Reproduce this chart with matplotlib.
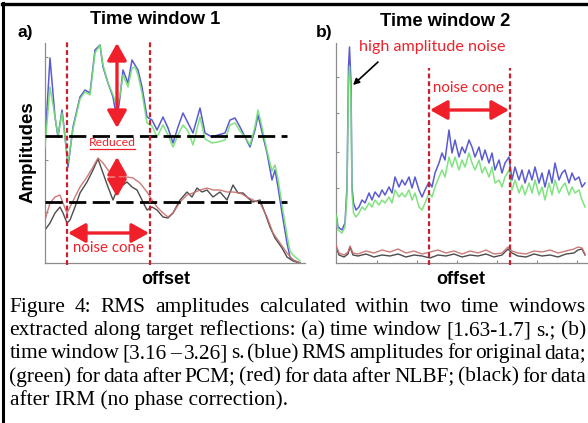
import matplotlib
matplotlib.use("Agg")
import matplotlib.pyplot as plt
from matplotlib.patches import FancyArrowPatch, ArrowStyle
from matplotlib.lines import Line2D

W, H = 588, 423

# ---- panel a: time window 1 (offset in px-like units, amplitude arbitrary) ----
offset_a_top = [0, 5, 10, 13, 17, 19, 23, 28, 35, 40, 45, 50, 55, 58, 63, 68, 72, 75, 78, 83,
                87, 90, 93, 97, 102, 107, 112, 118, 123, 128, 133, 138, 143, 148, 155, 160, 167, 173, 180, 185,
                190, 195, 200, 205, 210, 213, 217, 222, 227, 230, 233, 237, 242, 245, 248, 255]
blue_a = [120, 205, 146, 126, 153, 136, 96, 136, 166, 173, 170, 213, 218, 196, 180, 166, 143, 166, 193, 180,
          203, 198, 193, 176, 146, 143, 133, 146, 135, 120, 136, 150, 140, 130, 155, 130, 126, 128, 130, 143,
          145, 136, 126, 116, 133, 148, 131, 110, 83, 93, 76, 50, 20, 6, 3, 0]
green_a = [116, 176, 146, 128, 150, 134, 100, 134, 164, 171, 168, 210, 218, 198, 180, 168, 158, 168, 188, 176,
           195, 196, 188, 170, 140, 137, 126, 138, 128, 116, 128, 138, 132, 118, 146, 124, 120, 121, 123, 138,
           140, 132, 126, 118, 136, 153, 136, 112, 92, 98, 84, 58, 28, 12, 8, 2]

offset_a_red = [0, 5, 10, 15, 18, 22, 25, 30, 35, 42, 48, 53, 58, 63, 68, 75, 82, 88, 95, 102,
                107, 112, 118, 123, 128, 135, 142, 148, 155, 162, 168, 175, 182, 188, 195, 202, 208, 215, 222, 228,
                235, 242, 248, 255]
red_a = [43, 60, 66, 68, 60, 50, 56, 66, 76, 86, 96, 105, 100, 93, 88, 85, 86, 85, 80, 71,
         63, 56, 50, 46, 50, 61, 68, 70, 73, 75, 73, 73, 71, 71, 70, 66, 63, 60, 46, 30,
         20, 10, 3, 0]

offset_a_black = [0, 5, 10, 15, 18, 22, 25, 30, 35, 42, 48, 53, 58, 63, 68, 72, 75, 78, 82, 87,
                  92, 97, 102, 107, 112, 118, 123, 128, 135, 142, 147, 152, 157, 162, 168, 175, 182, 188, 193, 198,
                  203, 208, 215, 220, 225, 230, 237, 242, 248, 255]
black_a = [33, 40, 50, 56, 50, 40, 43, 56, 70, 81, 93, 104, 90, 76, 63, 73, 80, 78, 81, 76,
           73, 63, 53, 56, 53, 46, 45, 50, 63, 71, 66, 75, 71, 73, 66, 71, 63, 78, 70, 70,
           65, 61, 63, 50, 36, 25, 15, 6, 2, 0]

# ---- panel b: time window 2 ----
offset_b_top = [0, 2, 6, 9, 11, 12.5, 13.5, 15, 16, 17.5, 20, 23, 26, 29, 33, 36, 39, 43, 46, 49,
                53, 56, 59, 63, 66, 69, 73, 76, 79, 83, 86, 89, 93, 96, 99, 103, 106, 109, 113, 116,
                119, 123, 126, 129, 133, 136, 139, 143, 146, 149, 153, 156, 159, 163, 166, 169, 173, 176, 179, 183,
                186, 189, 193, 196, 199, 203, 206, 209, 213, 216, 219, 223, 226, 229, 233, 236, 239, 243, 246, 249]
blue_b = [50, 36, 33, 40, 76, 196, 216, 180, 76, 60, 53, 56, 63, 60, 70, 63, 71, 66, 73, 68,
          76, 70, 86, 76, 83, 78, 86, 75, 86, 73, 66, 73, 81, 76, 90, 100, 110, 103, 133, 110,
          123, 106, 116, 110, 123, 116, 106, 116, 103, 113, 100, 110, 93, 103, 90, 100, 106, 83, 96, 83,
          93, 80, 93, 83, 96, 80, 90, 76, 93, 80, 100, 83, 90, 93, 80, 90, 83, 86, 76, 80]
green_b = [48, 33, 30, 36, 70, 180, 197, 165, 70, 50, 46, 50, 56, 53, 60, 56, 63, 58, 63, 60,
           66, 60, 73, 66, 70, 66, 73, 63, 70, 56, 53, 60, 70, 66, 76, 86, 93, 86, 106, 96,
           106, 93, 103, 96, 110, 100, 93, 103, 90, 96, 86, 96, 80, 83, 76, 86, 93, 73, 83, 70,
           78, 68, 80, 70, 83, 68, 76, 63, 80, 68, 83, 70, 76, 80, 68, 76, 70, 73, 63, 56]

offset_b_low = [0, 3, 8, 12, 14, 17, 22, 30, 38, 46, 54, 62, 70, 78, 86, 94, 102, 110, 118, 126,
                134, 142, 150, 158, 166, 172, 176, 182, 190, 198, 206, 214, 222, 230, 238, 242, 246, 249]
black_b = [16, 8, 6, 9, 16, 8, 7, 9, 6, 8, 7, 9, 6, 8, 7, 5, 8, 7, 9, 6,
           8, 7, 9, 6, 8, 14, 10, 7, 6, 9, 7, 8, 6, 9, 10, 13, 14, 8]
red_b = [18, 10, 8, 11, 17, 10, 9, 12, 10, 13, 11, 14, 10, 12, 9, 11, 13, 10, 12, 9,
         12, 10, 13, 9, 10, 16, 12, 10, 9, 12, 11, 13, 10, 12, 14, 16, 15, 9]

caption = [
    "Figure 4: RMS amplitudes calculated within two time windows",
    "extracted along target reflections: (a) time window [1.63-1.7] s.; (b)",
    "time window [3.16 \u2013 3.26] s. (blue) RMS amplitudes for original data;",
    "(green) for data after PCM; (red) for data after NLBF; (black) for data",
    "after IRM (no phase correction).",
]

C_BLUE = "#5a5ad2"
C_GREEN = "#72e072"
C_RED = "#c86c6c"
C_BLACK = "#4c4c4c"
C_ANN = "#f0202a"
C_VLINE = "#cc1f2e"
ANN_FONT = ["Lato", "DejaVu Sans"]


def box(left, top, right, bottom):
    return [left / W, 1 - bottom / H, (right - left) / W, (bottom - top) / H]


def style_axes(ax, xmax, xt, yt):
    ax.set_xlim(0, xmax)
    ax.set_ylim(0, 220)
    for s in ["top", "right"]:
        ax.spines[s].set_visible(False)
    for s in ["left", "bottom"]:
        ax.spines[s].set_color("#8c8c8c")
        ax.spines[s].set_linewidth(0.9)
    ax.set_xticks(xt)
    ax.set_yticks(yt)
    ax.tick_params(direction="in", length=2.5, width=0.8, color="#8c8c8c",
                   labelleft=False, labelbottom=False)
    ax.patch.set_alpha(0)


def double_arrow(ax, p0, p1, lw=2.4, scale=14):
    st = ArrowStyle("<|-|>", head_length=0.75, head_width=0.42)
    ax.add_patch(FancyArrowPatch(p0, p1, arrowstyle=st, mutation_scale=scale,
                                 color=C_ANN, lw=lw, clip_on=False, shrinkA=0, shrinkB=0, zorder=6))


def red_vline(ax, x, y0, y1):
    ax.add_line(Line2D([x, x], [y0, y1], color=C_VLINE, lw=1.6, ls=(0, (2.2, 1.3)),
                       clip_on=False, zorder=5))


fig = plt.figure(figsize=(W / 100, H / 100), dpi=100)

# outer frame (top and left lines)
fig.add_artist(Line2D([3 / W, 3 / W], [0, 1 - 3 / H], color="black", lw=2.2))
fig.add_artist(Line2D([2 / W, 1], [1 - 4 / H, 1 - 4 / H], color="black", lw=2.4))

# ---------------- panel a ----------------
ax1 = fig.add_axes(box(45, 43, 305, 263))
style_axes(ax1, 260, [], [0, 51, 103, 154, 206])
ax1.plot(offset_a_top, blue_a, color=C_BLUE, lw=1.1, zorder=2)
ax1.plot(offset_a_top, green_a, color=C_GREEN, lw=1.1, zorder=3, alpha=0.9)
ax1.plot(offset_a_black, black_a, color=C_BLACK, lw=1.0, zorder=2)
ax1.plot(offset_a_red, red_a, color=C_RED, lw=1.0, zorder=3, alpha=0.9)

for yv in [127, 61]:
    ax1.add_line(Line2D([0, 242], [yv, yv], color="black", lw=2.0, ls=(0, (6.2, 2.3)), zorder=4))
for xv in [22, 105]:
    red_vline(ax1, xv, -2, 221)

double_arrow(ax1, (72, 135), (72, 220))
double_arrow(ax1, (72, 66), (72, 106))
double_arrow(ax1, (23, 30), (104, 30))
ax1.text(63, 15, "noise cone", color=C_ANN, fontsize=10.8, family=ANN_FONT,
         ha="center", va="center", zorder=7)
ax1.text(67, 121, "Reduced", color=C_ANN, fontsize=8.8, family=ANN_FONT,
         ha="center", va="center", zorder=7)
ax1.add_line(Line2D([45, 90], [114.5, 114.5], color=C_ANN, lw=0.9, zorder=7))

# ---------------- panel b ----------------
ax2 = fig.add_axes(box(336, 43, 587, 263))
style_axes(ax2, 251, [41, 81, 121, 161, 201, 241], [36, 75, 111, 150, 186])
ax2.plot(offset_b_top, blue_b, color=C_BLUE, lw=1.1, zorder=2)
ax2.plot(offset_b_top, green_b, color=C_GREEN, lw=1.1, zorder=3, alpha=0.9)
ax2.plot(offset_b_low, black_b, color=C_BLACK, lw=1.0, zorder=2)
ax2.plot(offset_b_low, red_b, color=C_RED, lw=1.0, zorder=3, alpha=0.9)

for xv in [92.5, 173.5]:
    red_vline(ax2, xv, -2, 195)
double_arrow(ax2, (94, 153), (173, 153))
ax2.text(132, 175, "noise cone", color=C_ANN, fontsize=10.8, family=ANN_FONT,
         ha="center", va="center", zorder=7)
ax2.text(96, 216, "high amplitude noise", color=C_ANN, fontsize=11.6, family=ANN_FONT,
         ha="center", va="center", zorder=7)
ax2.annotate("", xy=(17, 178), xytext=(42, 201),
             arrowprops=dict(arrowstyle="-|>", color="black", lw=1.2, mutation_scale=9,
                             shrinkA=0, shrinkB=0), annotation_clip=False)

# ---------------- labels ----------------
def ftext(x, y, s, **kw):
    return fig.text(x / W, 1 - y / H, s, **kw)


bold = dict(family="Liberation Sans", fontweight="bold", ha="center", va="center")
ftext(155, 19, "Time window 1", fontsize=13.2, **bold)
ftext(445, 21, "Time window 2", fontsize=13.2, **bold)
ftext(25, 32, "a)", fontsize=12.5, **bold)
ftext(324, 33, "b)", fontsize=12.5, **bold)
ftext(28, 152, "Amplitudes", fontsize=13.5, rotation=90, **bold)
ftext(166, 279, "offset", fontsize=13, **bold)
ftext(461, 280, "offset", fontsize=13, **bold)

# ---------------- caption (justified) ----------------
renderer = fig.canvas.get_renderer()
CAP_FONT = "Liberation Serif"
x0, x1 = 9.5, 586.0
probe = fig.text(0, 0, caption[4], fontsize=10, family=CAP_FONT)
cap_size = 10 * (287.0 - x0) / probe.get_window_extent(renderer).width
probe.remove()
baselines = [311.5, 335, 358.3, 381.7, 405]

for i, (line, yb) in enumerate(zip(caption, baselines)):
    if i == len(caption) - 1:
        ftext(x0, yb, line, fontsize=cap_size, family=CAP_FONT, va="baseline")
        continue
    words = line.split(" ")
    texts = [ftext(0, yb, w, fontsize=cap_size, family=CAP_FONT, va="baseline") for w in words]
    widths = [t.get_window_extent(renderer).width for t in texts]
    gap = (x1 - x0 - sum(widths)) / (len(words) - 1)
    x = x0
    for t, w in zip(texts, widths):
        t.set_position((x / W, 1 - yb / H))
        x += w + gap

fig.savefig("out.png", dpi=100)
